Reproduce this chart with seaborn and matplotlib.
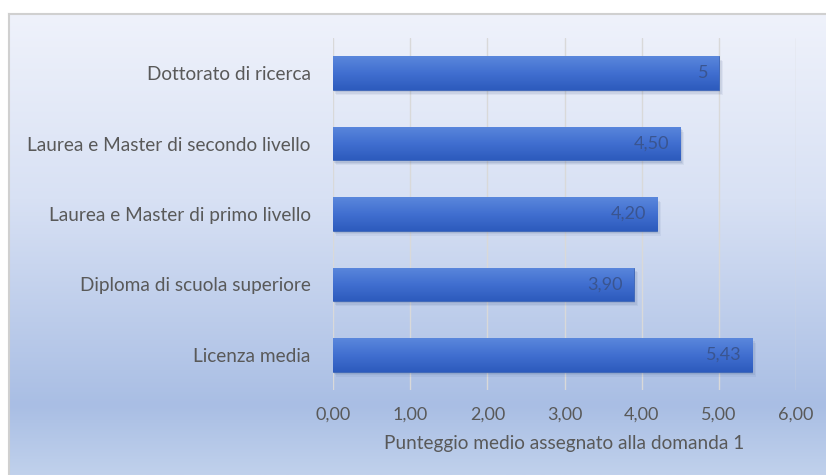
import numpy as np
import pandas as pd
import matplotlib
matplotlib.use("Agg")
import matplotlib.pyplot as plt
from matplotlib.colors import LinearSegmentedColormap
from matplotlib.patches import Rectangle
import seaborn as sns

# Data
categories = [
    "Dottorato di ricerca",
    "Laurea e Master di secondo livello",
    "Laurea e Master di primo livello",
    "Diploma di scuola superiore",
    "Licenza media",
]
values = [5.0, 4.50, 4.20, 3.90, 5.43]
value_labels = ["5", "4,50", "4,20", "3,90", "5,43"]
x_ticks = [0, 1, 2, 3, 4, 5, 6]
x_tick_labels = ["0,00", "1,00", "2,00", "3,00", "4,00", "5,00", "6,00"]
x_title = "Punteggio medio assegnato alla domanda 1"

sns.set_theme(style="white")
plt.rcParams["font.family"] = ["Lato", "DejaVu Sans"]

W, H = 826, 475
fig = plt.figure(figsize=(W / 100, H / 100), dpi=100)
fig.patch.set_facecolor("white")

# Chart area background: vertical gradient with a light border
bg = fig.add_axes([9 / W, 0, 1 - 9 / W, 1 - 14 / H], zorder=0)
bg_cmap = LinearSegmentedColormap.from_list(
    "bg", [(0.0, "#eff2fb"), (0.4, "#d8e1f4"), (0.85, "#a9bee4"), (1.0, "#c0d1ec")]
)
grad = np.linspace(0, 1, 256).reshape(-1, 1)
bg.imshow(grad, aspect="auto", cmap=bg_cmap, extent=[0, 1, 0, 1], origin="upper")
bg.set_xlim(0, 1)
bg.set_ylim(0, 1)
bg.set_xticks([])
bg.set_yticks([])
for side, s in bg.spines.items():
    if side in ("top", "left"):
        s.set_color("#d0d0d0")
        s.set_linewidth(1.5)
    else:
        s.set_visible(False)

# Main plot
ax = fig.add_axes([333 / W, 1 - 390 / H, (796 - 333) / W, (390 - 38) / H], zorder=1)
ax.set_facecolor("none")
df = pd.DataFrame({"cat": categories, "val": values})
sns.barplot(data=df, x="val", y="cat", orient="h", width=0.48,
            color="#4472c4", ax=ax, zorder=3)

txt = "#595959"
ax.set_xlim(0, 6)
ax.set_xticks(x_ticks)
ax.set_xticklabels(x_tick_labels)
ax.xaxis.grid(True, color="#d9d9d9", linewidth=1.0, zorder=0)
ax.yaxis.grid(False)
for s in ax.spines.values():
    s.set_visible(False)
ax.tick_params(axis="x", length=0, pad=12, labelsize=13, labelcolor=txt)
ax.tick_params(axis="y", length=0, pad=16, labelsize=13.7, labelcolor=txt)
ax.set_ylabel("")
ax.set_xlabel(x_title, fontsize=13.7, color=txt, labelpad=9)

# Bars: vertical gradient fill and soft shadow
bar_cmap = LinearSegmentedColormap.from_list(
    "bar", [(0.0, "#5a87dc"), (0.5, "#416fd0"), (1.0, "#2d5bbd")]
)
bgrad = np.linspace(0, 1, 64).reshape(-1, 1)
for p in ax.patches:
    x0, y0 = p.get_x(), p.get_y()
    w, h = p.get_width(), p.get_height()
    for k, a in enumerate([0.10, 0.08, 0.06]):
        d = 0.012 * (k + 1)
        shadow = Rectangle((x0 + d, y0 + 0.03 + 0.02 * k), w + d * 0.5, h,
                           facecolor="#1f3a70", alpha=a, edgecolor="none", zorder=2)
        ax.add_patch(shadow)
    p.set_edgecolor("#3a64b8")
    p.set_linewidth(0.6)
    im = ax.imshow(bgrad, aspect="auto", cmap=bar_cmap,
                   extent=[x0, x0 + w, y0 + h, y0], origin="upper", zorder=4)
    im.set_clip_path(p)

ax.set_xlim(0, 6)
ax.set_ylim(len(categories) - 0.5, -0.5)

# Value labels inside the bars
for i, (v, lab) in enumerate(zip(values, value_labels)):
    ax.text(v - 0.14, i, lab, ha="right", va="center", fontsize=13,
            color="#3a5590", zorder=5)

fig.savefig("out.png", dpi=100)
